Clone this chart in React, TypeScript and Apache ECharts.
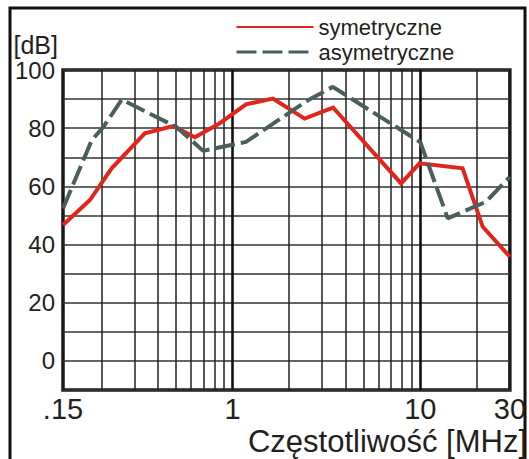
import React, { useEffect, useRef } from 'react';
import * as echarts from 'echarts';

// Frequencies [MHz] and levels [dB]
const freqSym = [0.125, 0.174, 0.227, 0.341, 0.483, 0.63, 0.855, 1.18, 1.64, 2.42, 3.43, 7.9, 9.9, 16.8, 21.5, 30];
const valSym = [46.7, 55.3, 66.2, 78.2, 80.7, 76.9, 81.7, 88.2, 90.2, 83.3, 87.1, 61, 67.9, 66.2, 46.1, 35.8];
const freqAsym = [0.125, 0.178, 0.205, 0.257, 0.503, 0.697, 1.18, 2.52, 3.42, 10, 14, 22.4, 30];
const valAsym = [52.4, 75.9, 80.4, 89.8, 80.4, 72.2, 75.3, 89.6, 94.2, 75.2, 49, 54.7, 63.3];

const seriesNames = ['symetryczne', 'asymetryczne'];
const minorGridFreqs = [0.2, 0.3, 0.4, 0.5, 0.6, 0.7, 0.8, 0.9, 2, 3, 4, 5, 6, 7, 8, 9, 20];
const majorGridFreqs = [1, 10];
const xMin = 0.125;
const xMax = 30;
const xTickLabels = ['.15', '1', '10', '30'];
const yTickValues = [0, 20, 40, 60, 80, 100];
const xName = 'Częstotliwość [MHz]';
const yName = '[dB]';

const FONT = '"Liberation Sans", Arial, Helvetica, sans-serif';
const INK = '#231f20';

export default function App() {
  const ref = useRef<HTMLDivElement>(null);

  useEffect(() => {
    if (!ref.current) return;
    const chart = echarts.init(ref.current, undefined, { renderer: 'svg' });

    const xLabel = (v: number) => {
      if (Math.abs(v - xMin) < 0.01) return xTickLabels[0];
      if (Math.abs(v - 1) < 1e-6) return xTickLabels[1];
      if (Math.abs(v - 10) < 1e-6) return xTickLabels[2];
      if (Math.abs(v - xMax) < 0.5) return xTickLabels[3];
      return '';
    };

    const option: any = {
      animation: false,
      backgroundColor: '#ffffff',
      grid: {
        left: 63,
        top: 70,
        width: 447.5,
        height: 320,
        show: true,
        borderColor: '#1a1a1a',
        borderWidth: 3.5,
        backgroundColor: 'transparent',
      },
      legend: {
        orient: 'vertical',
        left: 230,
        top: 11,
        itemWidth: 77,
        itemHeight: 22,
        itemGap: 3,
        textStyle: { fontFamily: FONT, fontSize: 22, color: INK },
        data: [
          { name: seriesNames[0], itemStyle: { opacity: 0, borderWidth: 0 }, lineStyle: { width: 2 } },
          { name: seriesNames[1], itemStyle: { opacity: 0, borderWidth: 0 }, lineStyle: { width: 3 } },
        ],
      },
      xAxis: {
        type: 'log',
        logBase: 10,
        min: xMin,
        max: xMax,
        axisLine: { show: false },
        axisTick: { show: false },
        splitLine: { show: false },
        minorSplitLine: { show: false },
        axisLabel: {
          show: true,
          showMinLabel: true,
          showMaxLabel: true,
          formatter: xLabel,
          fontFamily: FONT,
          fontSize: 29,
          color: INK,
          margin: 4,
        },
      },
      yAxis: {
        type: 'value',
        min: -10,
        max: 100,
        interval: 10,
        name: yName,
        nameLocation: 'end',
        nameGap: 25,
        nameTextStyle: {
          fontFamily: FONT,
          fontSize: 25,
          color: INK,
          align: 'right',
          verticalAlign: 'middle',
          padding: [0, 5, 0, 0],
        },
        axisLine: { show: false },
        axisTick: { show: false },
        axisLabel: {
          formatter: (v: number) => (yTickValues.indexOf(v) >= 0 ? String(v) : ''),
          fontFamily: FONT,
          fontSize: 24,
          color: INK,
          margin: 8,
        },
        splitLine: { show: true, lineStyle: { color: '#333333', width: 1.5 } },
      },
      graphic: [
        {
          type: 'rect',
          shape: { x: 10, y: 8, width: 515, height: 500 },
          style: { fill: 'none', stroke: '#111111', lineWidth: 3 },
          silent: true,
        },
        {
          type: 'text',
          x: 527,
          y: 441,
          style: {
            text: xName,
            fontFamily: FONT,
            fontSize: 31,
            fill: INK,
            align: 'right',
            verticalAlign: 'middle',
          },
          silent: true,
        },
      ],
      series: [
        {
          name: seriesNames[0],
          type: 'line',
          symbol: 'none',
          z: 3,
          data: freqSym.map((f, i) => [f, valSym[i]]),
          lineStyle: { color: '#e1251b', width: 4, join: 'miter' },
          itemStyle: { color: '#e1251b' },
          markLine: {
            silent: true,
            z: 1,
            symbol: ['none', 'none'],
            label: { show: false },
            emphasis: { disabled: true },
            lineStyle: { color: INK, width: 1.5, type: 'solid' },
            data: [
              ...minorGridFreqs.map((f) => ({ xAxis: f })),
              ...majorGridFreqs.map((f) => ({ xAxis: f, lineStyle: { color: '#111111', width: 2.6, type: 'solid' } })),
            ],
          },
        },
        {
          name: seriesNames[1],
          type: 'line',
          symbol: 'none',
          z: 4,
          data: freqAsym.map((f, i) => [f, valAsym[i]]),
          lineStyle: { color: '#4b5e5e', width: 4, type: [20, 6], cap: 'butt' },
          itemStyle: { color: '#4b5e5e' },
        },
      ],
    };

    chart.setOption(option);
    return () => chart.dispose();
  }, []);

  return (
    <div
      ref={ref}
      style={{ position: 'absolute', left: 0, top: 0, width: 529, height: 459, background: '#ffffff' }}
    />
  );
}
